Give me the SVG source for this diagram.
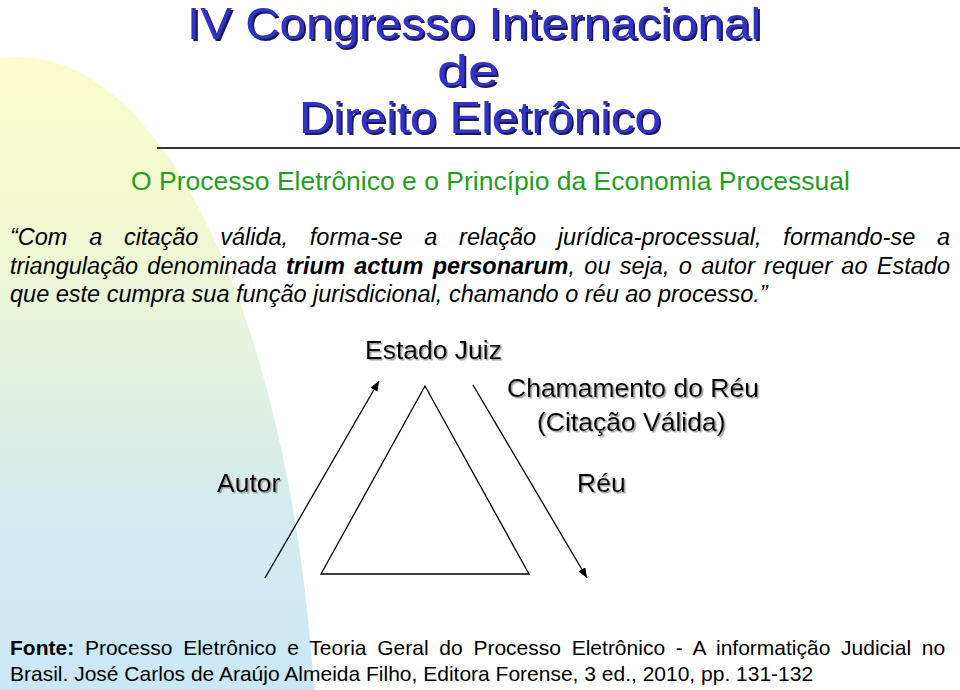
<svg xmlns="http://www.w3.org/2000/svg" width="960" height="690" viewBox="0 0 960 690">
<defs>
<linearGradient id="bgGrad" x1="0" y1="57" x2="0" y2="690" gradientUnits="userSpaceOnUse">
<stop offset="0" stop-color="#fbfccb"/>
<stop offset="0.25" stop-color="#f3f8d0"/>
<stop offset="0.45" stop-color="#e6f3dc"/>
<stop offset="0.7" stop-color="#d5ecee"/>
<stop offset="1" stop-color="#cbe7f7"/>
</linearGradient>
<filter id="titleShadow" x="-5%" y="-20%" width="110%" height="140%">
<feDropShadow dx="2" dy="2" stdDeviation="0.3" flood-color="#00003a" flood-opacity="0.9"/>
</filter>
<filter id="labelShadow" x="-5%" y="-20%" width="110%" height="140%">
<feDropShadow dx="1.5" dy="1.5" stdDeviation="0.6" flood-color="#888888" flood-opacity="0.8"/>
</filter>
<marker id="arrow" viewBox="0 0 10 8" refX="10" refY="4" markerWidth="10" markerHeight="8" markerUnits="userSpaceOnUse" orient="auto">
<path d="M0,0 L10,4 L0,8 z" fill="#000"/>
</marker>
<style>
.title{font-family:"Liberation Sans",Arial,sans-serif;font-size:45px;fill:#3030c8;text-anchor:middle;filter:url(#titleShadow);}
.sub{font-family:"Liberation Sans",Arial,sans-serif;font-size:26.5px;fill:#1f9e1f;text-anchor:middle;}
.para{font-family:"Liberation Sans",Arial,sans-serif;font-size:23.5px;font-style:italic;fill:#000;}
.foot{font-family:"Liberation Sans",Arial,sans-serif;font-size:21px;fill:#000;}
.lbl{font-family:"Liberation Sans",Arial,sans-serif;font-size:26.5px;fill:#000;filter:url(#labelShadow);}
.edge{stroke:#000;stroke-width:1.3;fill:none;}
</style>
</defs>

<rect x="0" y="0" width="960" height="690" fill="#ffffff"/>
<ellipse id="bg-shape" cx="20" cy="812" rx="298" ry="755" fill="url(#bgGrad)"/>

<g id="title">
<text class="title" x="474" y="39" textLength="574" lengthAdjust="spacingAndGlyphs">IV Congresso Internacional</text>
<text class="title" x="468" y="86" textLength="62" lengthAdjust="spacingAndGlyphs">de</text>
<text class="title" x="480" y="133" textLength="362" lengthAdjust="spacingAndGlyphs">Direito Eletrônico</text>
</g>
<line x1="157" y1="148" x2="960" y2="148" stroke="#333" stroke-width="2"/>

<g id="subtitle">
<text class="sub" x="490.5" y="190">O Processo Eletrônico e o Princípio da Economia Processual</text>
</g>

<g id="quote">
<text class="para" x="10" y="245" style="word-spacing:15.2px">“Com a citação válida, forma-se a relação jurídica-processual, formando-se a</text>
<text class="para" x="10" y="274" style="word-spacing:2.8px">triangulação denominada <tspan font-weight="bold">trium actum personarum</tspan>, ou seja, o autor requer ao Estado</text>
<text class="para" x="10" y="302">que este cumpra sua função jurisdicional, chamando o réu ao processo.”</text>
</g>

<g id="node-estado">
<text class="lbl" x="365" y="359">Estado Juiz</text>
</g>
<g id="node-chamamento">
<text class="lbl" x="507" y="397">Chamamento do Réu</text>
<text class="lbl" x="537" y="431">(Citação Válida)</text>
</g>
<g id="node-autor">
<text class="lbl" x="217" y="492">Autor</text>
</g>
<g id="node-reu">
<text class="lbl" x="577" y="492">Réu</text>
</g>
<g id="triangle">
<polygon class="edge" points="425,386 321,574 529,574"/>
</g>

<g id="connectors">
<line class="edge" x1="265" y1="578" x2="379" y2="381" marker-end="url(#arrow)"/>
<line class="edge" x1="473" y1="385" x2="587" y2="578" marker-end="url(#arrow)"/>
</g>

<g id="footer">
<text class="foot" x="10" y="655" style="word-spacing:4.9px"><tspan font-weight="bold">Fonte:</tspan> Processo Eletrônico e Teoria Geral do Processo Eletrônico - A informatição Judicial no</text>
<text class="foot" x="10" y="681">Brasil. José Carlos de Araújo Almeida Filho, Editora Forense, 3 ed., 2010, pp. 131-132</text>
</g>
</svg>
